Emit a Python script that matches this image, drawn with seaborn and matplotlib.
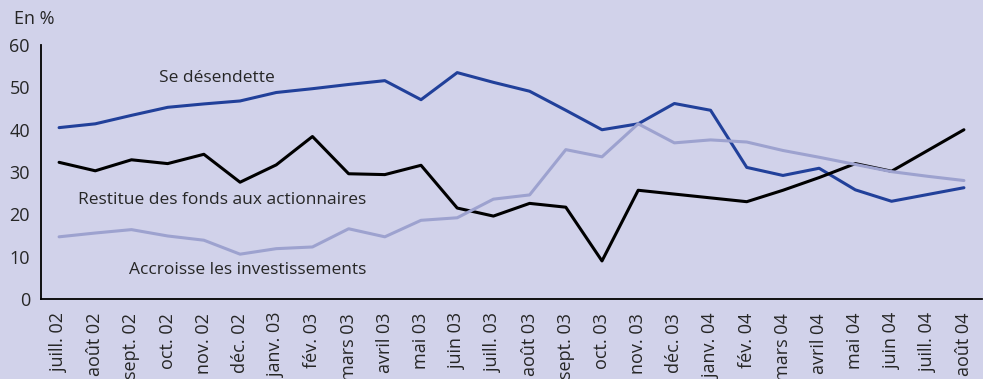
import numpy as np
import pandas as pd
import matplotlib
matplotlib.use("Agg")
import matplotlib.pyplot as plt
import seaborn as sns

months = ["juill. 02", "août 02", "sept. 02", "oct. 02", "nov. 02", "déc. 02",
          "janv. 03", "fév. 03", "mars 03", "avril 03", "mai 03", "juin 03",
          "juill. 03", "août 03", "sept. 03", "oct. 03", "nov. 03", "déc. 03",
          "janv. 04", "fév. 04", "mars 04", "avril 04", "mai 04", "juin 04",
          "juill. 04", "août 04"]

se_desendette = [40.5, 41.4, 43.4, 45.3, 46.1, 46.8, 48.8, 49.7, 50.7, 51.6,
                 47.1, 53.5, 51.2, 49.1, 44.6, 40.0, 41.4, 46.2, 44.6, 31.1,
                 29.2, 30.9, 25.8, 23.1, 24.7, 26.3]

restitue_fonds = [32.3, 30.3, 32.9, 32.0, 34.2, 27.6, 31.7, 38.4, 29.6, 29.4,
                  31.6, 21.5, 19.6, 22.6, 21.7, 9.0, 25.7, 24.8, 23.9, 23.0,
                  25.7, 28.7, 32.0, 30.2, 35.1, 40.0]

accroisse_invest = [14.7, 15.6, 16.4, 14.9, 13.9, 10.6, 11.9, 12.3, 16.6, 14.7,
                    18.6, 19.2, 23.6, 24.6, 35.3, 33.6, 41.4, 36.9, 37.6, 37.1,
                    35.1, 33.5, 31.8, 30.1, 29.0, 28.0]

series_names = ["Se désendette", "Restitue des fonds aux actionnaires",
                "Accroisse les investissements"]
series_values = [se_desendette, restitue_fonds, accroisse_invest]
series_colors = ["#21409a", "#000000", "#9da2cf"]

bg = "#d1d2ea"
text_color = "#262626"
font = ["Open Sans", "DejaVu Sans"]

frames = []
for name, vals in zip(series_names, series_values):
    frames.append(pd.DataFrame({"pos": np.arange(len(months)),
                                "value": vals, "serie": name}))
df = pd.concat(frames, ignore_index=True)

sns.set_theme(style="white")
plt.rcParams["font.family"] = font

fig = plt.figure(figsize=(9.83, 3.79), dpi=100, facecolor=bg)
ax = fig.add_axes([0.0417, 0.211, 0.9573, 0.670])
ax.set_facecolor(bg)

sns.lineplot(data=df, x="pos", y="value", hue="serie",
             palette=dict(zip(series_names, series_colors)),
             hue_order=series_names, linewidth=2.2, sort=False,
             legend=False, ax=ax)

ax.set_xlim(-0.5, len(months) - 0.5)
ax.set_ylim(0, 60)
ax.set_yticks(range(0, 61, 10))
ax.tick_params(axis="y", which="major", direction="out", length=5, width=1.2,
               color="black", labelsize=13, pad=3, labelcolor=text_color)

ax.set_xticks(np.arange(len(months)))
ax.set_xticklabels(months, rotation=90, va="top", ha="center")
ax.set_xticks(np.arange(-0.5, len(months), 1.0), minor=True)
ax.tick_params(axis="x", which="major", length=0, labelsize=13, pad=10,
               labelcolor=text_color)
ax.tick_params(axis="x", which="minor", direction="out", length=5, width=1.2,
               color="black")

for side in ["top", "right"]:
    ax.spines[side].set_visible(False)
for side in ["left", "bottom"]:
    ax.spines[side].set_color("black")
    ax.spines[side].set_linewidth(1.3)

ax.set_xlabel("")
ax.set_ylabel("")

fig.text(14 / 983, 1 - 19 / 379, "En %", fontsize=13, va="center", ha="left",
         color=text_color)

# Series labels placed beside their lines
ax.text(4.36, 52.2, series_names[0], fontsize=12.5, ha="center", va="center",
        color=text_color)
ax.text(4.5, 23.4, series_names[1], fontsize=12.5, ha="center", va="center",
        color=text_color)
ax.text(5.22, 6.85, series_names[2], fontsize=12.5, ha="center", va="center",
        color=text_color)

fig.savefig("out.png", dpi=100, facecolor=bg)
